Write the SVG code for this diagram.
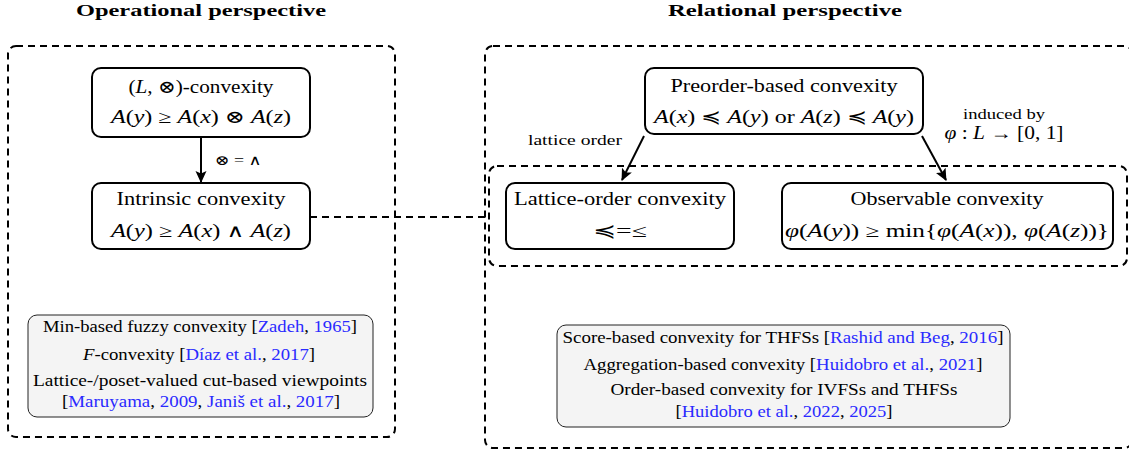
<svg xmlns="http://www.w3.org/2000/svg" width="1129" height="454" viewBox="0 0 1129 454">
<style>
text{font-family:"Liberation Serif","DejaVu Serif","Times New Roman",serif;fill:#000;text-anchor:middle}
.t{font-size:17px;font-weight:bold}
.n{font-size:18px}
.s{font-size:14px}
.b{font-size:16px}
.i{font-style:italic}
.c{fill:#2a2aff}
.node{fill:#fff;stroke:#000;stroke-width:2}
.grey{fill:#f4f4f4;stroke:#222;stroke-width:1}
.dash{fill:none;stroke:#000;stroke-width:2;stroke-dasharray:7 5}
.arr{fill:none;stroke:#000;stroke-width:2}
</style>
<defs>
<marker id="ah" viewBox="0 0 12 12" refX="11" refY="6" markerWidth="12" markerHeight="12" markerUnits="userSpaceOnUse" orient="auto">
<path d="M0,0.5 L12,6 L0,11.5 L2.5,6 Z" fill="#000"/>
</marker>
</defs>

<g id="titles">
<text class="t" x="201" y="16" textLength="250" lengthAdjust="spacingAndGlyphs">Operational perspective</text>
<text class="t" x="785" y="16" textLength="234" lengthAdjust="spacingAndGlyphs">Relational perspective</text>
</g>

<g id="groups">
<rect class="dash" x="8" y="46" width="387" height="391" rx="8"/>
<rect class="dash" x="485" y="46" width="647" height="402" rx="8"/>
<rect class="dash" x="489" y="166" width="638" height="100" rx="8"/>
</g>

<g id="connectors">
<line class="arr" x1="201" y1="137" x2="201" y2="182" marker-end="url(#ah)"/>
<line class="arr" x1="644" y1="136" x2="622" y2="180" marker-end="url(#ah)"/>
<line class="arr" x1="922" y1="136" x2="946" y2="180" marker-end="url(#ah)"/>
<line class="dash" x1="310" y1="217" x2="489" y2="217"/>
<text class="s" x="238" y="165" textLength="47" lengthAdjust="spacingAndGlyphs">⊗ = ∧</text>
<text class="s" x="575" y="145" textLength="94" lengthAdjust="spacingAndGlyphs">lattice order</text>
<text class="s" x="1004" y="119" textLength="82" lengthAdjust="spacingAndGlyphs">induced by</text>
<text class="n" x="1004" y="139" textLength="119" lengthAdjust="spacingAndGlyphs"><tspan class="i">φ</tspan> : <tspan class="i">L</tspan> → [0, 1]</text>
</g>

<g id="node-lotimes">
<rect class="node" x="92" y="68" width="218" height="69" rx="9"/>
<text class="n" x="201" y="93" textLength="145" lengthAdjust="spacingAndGlyphs">(<tspan class="i">L</tspan>, ⊗)-convexity</text>
<text class="n" x="201" y="123" textLength="180" lengthAdjust="spacingAndGlyphs"><tspan class="i">A</tspan>(<tspan class="i">y</tspan>) ≥ <tspan class="i">A</tspan>(<tspan class="i">x</tspan>) ⊗ <tspan class="i">A</tspan>(<tspan class="i">z</tspan>)</text>
</g>

<g id="node-intrinsic">
<rect class="node" x="92" y="183" width="218" height="66" rx="9"/>
<text class="n" x="201" y="205" textLength="169" lengthAdjust="spacingAndGlyphs">Intrinsic convexity</text>
<text class="n" x="201" y="237" textLength="180" lengthAdjust="spacingAndGlyphs"><tspan class="i">A</tspan>(<tspan class="i">y</tspan>) ≥ <tspan class="i">A</tspan>(<tspan class="i">x</tspan>) ∧ <tspan class="i">A</tspan>(<tspan class="i">z</tspan>)</text>
</g>

<g id="node-preorder">
<rect class="node" x="645" y="68" width="278" height="66" rx="9"/>
<text class="n" x="784" y="92" textLength="227" lengthAdjust="spacingAndGlyphs">Preorder-based convexity</text>
<text class="n" x="784" y="123" textLength="260" lengthAdjust="spacingAndGlyphs"><tspan class="i">A</tspan>(<tspan class="i">x</tspan>) ≼ <tspan class="i">A</tspan>(<tspan class="i">y</tspan>) or <tspan class="i">A</tspan>(<tspan class="i">z</tspan>) ≼ <tspan class="i">A</tspan>(<tspan class="i">y</tspan>)</text>
</g>

<g id="node-lattice">
<rect class="node" x="506" y="183" width="228" height="66" rx="9"/>
<text class="n" x="620" y="205" textLength="212" lengthAdjust="spacingAndGlyphs">Lattice-order convexity</text>
<text class="n" x="620" y="237" textLength="54" lengthAdjust="spacingAndGlyphs">≼=≤</text>
</g>

<g id="node-observable">
<rect class="node" x="782" y="183" width="331" height="66" rx="9"/>
<text class="n" x="947" y="205" textLength="193" lengthAdjust="spacingAndGlyphs">Observable convexity</text>
<text class="n" x="947" y="237" textLength="324" lengthAdjust="spacingAndGlyphs"><tspan class="i">φ</tspan>(<tspan class="i">A</tspan>(<tspan class="i">y</tspan>)) ≥ min{<tspan class="i">φ</tspan>(<tspan class="i">A</tspan>(<tspan class="i">x</tspan>)), <tspan class="i">φ</tspan>(<tspan class="i">A</tspan>(<tspan class="i">z</tspan>))}</text>
</g>

<g id="node-operational-refs">
<rect class="grey" x="28" y="315" width="345" height="102" rx="9"/>
<text class="b" x="200" y="332" textLength="314" lengthAdjust="spacingAndGlyphs">Min-based fuzzy convexity [<tspan class="c">Zadeh</tspan>, <tspan class="c">1965</tspan>]</text>
<text class="b" x="199" y="360" textLength="232" lengthAdjust="spacingAndGlyphs"><tspan class="i">F</tspan>-convexity [<tspan class="c">Díaz et al.</tspan>, <tspan class="c">2017</tspan>]</text>
<text class="b" x="200" y="386" textLength="334" lengthAdjust="spacingAndGlyphs">Lattice-/poset-valued cut-based viewpoints</text>
<text class="b" x="201" y="407" textLength="278" lengthAdjust="spacingAndGlyphs">[<tspan class="c">Maruyama</tspan>, <tspan class="c">2009</tspan>, <tspan class="c">Janiš et al.</tspan>, <tspan class="c">2017</tspan>]</text>
</g>

<g id="node-relational-refs">
<rect class="grey" x="557" y="325" width="453" height="102" rx="9"/>
<text class="b" x="783" y="343" textLength="441" lengthAdjust="spacingAndGlyphs">Score-based convexity for THFSs [<tspan class="c">Rashid and Beg</tspan>, <tspan class="c">2016</tspan>]</text>
<text class="b" x="783" y="370" textLength="399" lengthAdjust="spacingAndGlyphs">Aggregation-based convexity [<tspan class="c">Huidobro et al.</tspan>, <tspan class="c">2021</tspan>]</text>
<text class="b" x="784" y="395" textLength="347" lengthAdjust="spacingAndGlyphs">Order-based convexity for IVFSs and THFSs</text>
<text class="b" x="784" y="417" textLength="217" lengthAdjust="spacingAndGlyphs">[<tspan class="c">Huidobro et al.</tspan>, <tspan class="c">2022</tspan>, <tspan class="c">2025</tspan>]</text>
</g>
</svg>
